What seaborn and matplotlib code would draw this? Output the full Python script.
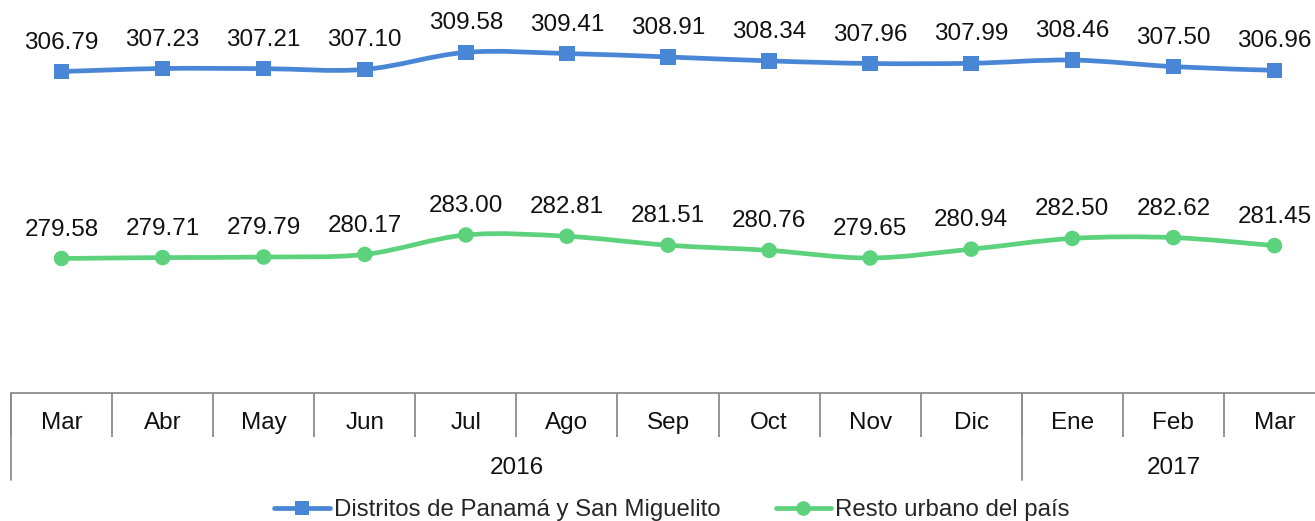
import numpy as np
import pandas as pd
import matplotlib
matplotlib.use("Agg")
import matplotlib.pyplot as plt
import seaborn as sns
from matplotlib.path import Path
from matplotlib.patches import PathPatch
from matplotlib.lines import Line2D
import matplotlib.transforms as mtransforms

# Datos
meses = ["Mar", "Abr", "May", "Jun", "Jul", "Ago", "Sep", "Oct", "Nov", "Dic", "Ene", "Feb", "Mar"]
anios = ["2016", "2017"]
meses_por_anio = [10, 3]
distritos = [306.79, 307.23, 307.21, 307.10, 309.58, 309.41, 308.91, 308.34, 307.96, 307.99, 308.46, 307.50, 306.96]
resto = [279.58, 279.71, 279.79, 280.17, 283.00, 282.81, 281.51, 280.76, 279.65, 280.94, 282.50, 282.62, 281.45]
serie_dist = "Distritos de Panamá y San Miguelito"
serie_resto = "Resto urbano del país"

azul = "#4A86D6"
verde = "#5DD27C"
gris = "#8C8C8C"

sns.set_style("white")
plt.rcParams["font.family"] = ["Liberation Sans", "DejaVu Sans"]

df = pd.DataFrame({
    "pos": list(range(len(meses))) * 2,
    "valor": distritos + resto,
    "serie": [serie_dist] * len(meses) + [serie_resto] * len(meses),
})

fig = plt.figure(figsize=(13.15, 5.21), dpi=100)
ax = fig.add_axes([11 / 1315, 128 / 521, 1314 / 1315, 393 / 521])


def curva_suave(ax, xs, ys, color):
    # Bezier tipo Catmull-Rom (suavizado estilo Excel)
    pts = np.column_stack([xs, ys]).astype(float)
    n = len(pts)
    verts = [pts[0]]
    codes = [Path.MOVETO]
    for i in range(n - 1):
        p0 = pts[i - 1] if i > 0 else pts[i]
        p1 = pts[i]
        p2 = pts[i + 1]
        p3 = pts[i + 2] if i + 2 < n else pts[i + 1]
        c1 = p1 + (p2 - p0) / 6
        c2 = p2 - (p3 - p1) / 6
        verts += [c1, c2, p2]
        codes += [Path.CURVE4] * 3
    ax.add_patch(PathPatch(Path(verts, codes), fill=False, edgecolor=color,
                           lw=3.4, capstyle="round", joinstyle="round", zorder=2))


x = np.arange(len(meses))
curva_suave(ax, x, distritos, azul)
curva_suave(ax, x, resto, verde)

sns.scatterplot(data=df, x="pos", y="valor", hue="serie", style="serie",
                palette={serie_dist: azul, serie_resto: verde},
                markers={serie_dist: "s", serie_resto: "o"},
                s=125, edgecolor="none", legend=False, ax=ax, zorder=3)

for xi, v in zip(x, distritos):
    ax.annotate(f"{v:.2f}", (xi, v), xytext=(0, 16.5), textcoords="offset points",
                ha="center", va="baseline", fontsize=17.5, color="#111111")
for xi, v in zip(x, resto):
    ax.annotate(f"{v:.2f}", (xi, v), xytext=(0, 16.5), textcoords="offset points",
                ha="center", va="baseline", fontsize=17.5, color="#111111")

ax.set_xlim(-0.5, len(meses) - 0.5)
ax.set_ylim(260, 317.2)
ax.set_xlabel("")
ax.set_ylabel("")
ax.set_yticks([])
for s in ["top", "left", "right"]:
    ax.spines[s].set_visible(False)
ax.spines["bottom"].set_color(gris)
ax.spines["bottom"].set_linewidth(1.3)

# Etiquetas de mes y separadores
ax.set_xticks(x)
ax.set_xticklabels(meses, fontsize=17.5, color="#111111")
ax.tick_params(axis="x", which="major", bottom=True, length=0, pad=14)
ax.set_xticks(np.arange(-0.5, len(meses), 1.0), minor=True)
ax.tick_params(axis="x", which="minor", bottom=True, length=31.5, width=1.3,
               color=gris, direction="out")

# Nivel de año
trans = mtransforms.blended_transform_factory(ax.transData, ax.transAxes)
inicio = -0.5
for anio, n in zip(anios, meses_por_anio):
    ax.add_line(Line2D([inicio, inicio], [0, -87 / 393], transform=trans,
                       color=gris, lw=1.3, clip_on=False))
    ax.text(inicio + n / 2, -75 / 393, anio, transform=trans, ha="center", va="center",
            fontsize=17.5, color="#111111")
    inicio += n

handles = [
    Line2D([], [], color=azul, lw=3.4, marker="s", markersize=10.5, markeredgewidth=0),
    Line2D([], [], color=verde, lw=3.4, marker="o", markersize=10.5, markeredgewidth=0),
]
fig.legend(handles, [serie_dist, serie_resto], loc="center", bbox_to_anchor=(0.511, 11 / 521),
           ncol=2, frameon=False, fontsize=17.3, handlelength=2.3, handletextpad=0.17,
           columnspacing=2.3, borderpad=0)

fig.savefig("out.png", dpi=100)
